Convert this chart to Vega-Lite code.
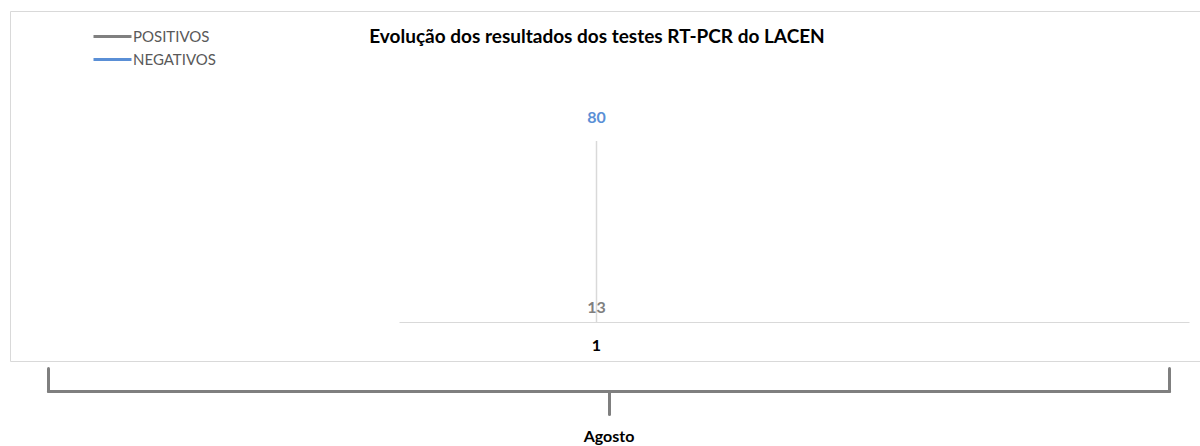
{
  "$schema": "https://vega.github.io/schema/vega-lite/v6.json",
  "autosize": "none",
  "width": 1200,
  "height": 350,
  "padding": {"left": 10, "top": 11, "right": 0, "bottom": 85},
  "background": "white",
  "config": {
    "view": {"stroke": "#d9d9d9", "strokeWidth": 1},
    "font": "Lato"
  },
  "title": {
    "text": "Evolução dos resultados dos testes RT-PCR do LACEN",
    "anchor": "middle",
    "offset": -36,
    "dx": -13,
    "font": "Lato",
    "fontSize": 19,
    "fontWeight": "bold",
    "color": "#000000"
  },
  "data": {
    "values": [
      {"mes": "1", "serie": "POSITIVOS", "valor": 13},
      {"mes": "1", "serie": "NEGATIVOS", "valor": 80}
    ]
  },
  "layer": [
    {
      "encoding": {
        "x": {
          "field": "mes",
          "type": "nominal",
          "scale": {"type": "band", "domain": ["1", "2"], "range": [389, 1179]},
          "axis": {
            "title": null,
            "orient": "bottom",
            "offset": -39,
            "ticks": false,
            "domainColor": "#d9d9d9",
            "domainWidth": 1,
            "labelAngle": 0,
            "labelExpr": "datum.value == '1' ? '1' : ''",
            "labelFont": "Lato",
            "labelFontSize": 16,
            "labelFontWeight": "bold",
            "labelColor": "#000000",
            "labelPadding": 15
          }
        }
      },
      "layer": [
        {
          "mark": {"type": "rule", "color": "#d9d9d9", "strokeWidth": 1.5},
          "encoding": {
            "y": {"aggregate": "max", "field": "valor", "type": "quantitative", "scale": {"domain": [0, 80], "range": [311, 130]}, "axis": null},
            "y2": {"datum": 0}
          }
        },
        {
          "mark": {"type": "line", "strokeWidth": 3},
          "encoding": {
            "y": {"field": "valor", "type": "quantitative"},
            "color": {
              "field": "serie",
              "type": "nominal",
              "scale": {"domain": ["POSITIVOS", "NEGATIVOS"], "range": ["#808080", "#5a8fd6"]},
              "legend": {
                "title": null,
                "orient": "none",
                "legendX": 93,
                "legendY": 16,
                "symbolType": "M-2.5,0H2.5",
                "symbolStrokeWidth": 3,
                "symbolSize": 231,
                "labelFont": "Lato",
                "labelFontSize": 15,
                "labelColor": "#595959",
                "labelOffset": 11,
                "rowPadding": 5
              }
            }
          }
        },
        {
          "transform": [{"filter": "datum.serie == 'NEGATIVOS'"}],
          "mark": {"type": "text", "dy": -23, "fontWeight": "bold", "fontSize": 16, "font": "Lato", "baseline": "middle"},
          "encoding": {
            "y": {"field": "valor", "type": "quantitative"},
            "text": {"field": "valor", "type": "quantitative"},
            "color": {"field": "serie", "type": "nominal"}
          }
        },
        {
          "transform": [{"filter": "datum.serie == 'POSITIVOS'"}],
          "mark": {"type": "text", "dy": 15, "fontWeight": "bold", "fontSize": 16, "font": "Lato", "baseline": "middle"},
          "encoding": {
            "y": {"field": "valor", "type": "quantitative"},
            "text": {"field": "valor", "type": "quantitative"},
            "color": {"field": "serie", "type": "nominal"}
          }
        }
      ]
    },
    {
      "mark": {"type": "point", "opacity": 0},
      "encoding": {
        "x": {
          "datum": 1,
          "type": "quantitative",
          "scale": {"domain": [0, 2], "range": [38, 1159], "nice": false, "zero": false},
          "axis": {
            "title": null,
            "orient": "bottom",
            "offset": 30,
            "values": [0, 1, 2],
            "grid": false,
            "domainColor": "#7f7f7f",
            "domainWidth": 3,
            "domainCap": "round",
            "tickColor": "#7f7f7f",
            "tickWidth": 3,
            "tickCap": "round",
            "tickSize": {"condition": {"test": "datum.value == 1", "value": 23}, "value": -23},
            "labelExpr": "datum.value == 1 ? 'Agosto' : ''",
            "labelFont": "Lato",
            "labelFontSize": 16,
            "labelFontWeight": "bold",
            "labelColor": "#000000",
            "labelPadding": 14,
            "labelFlush": false
          }
        }
      }
    }
  ],
  "resolve": {"scale": {"x": "independent"}, "axis": {"x": "independent"}}
}
